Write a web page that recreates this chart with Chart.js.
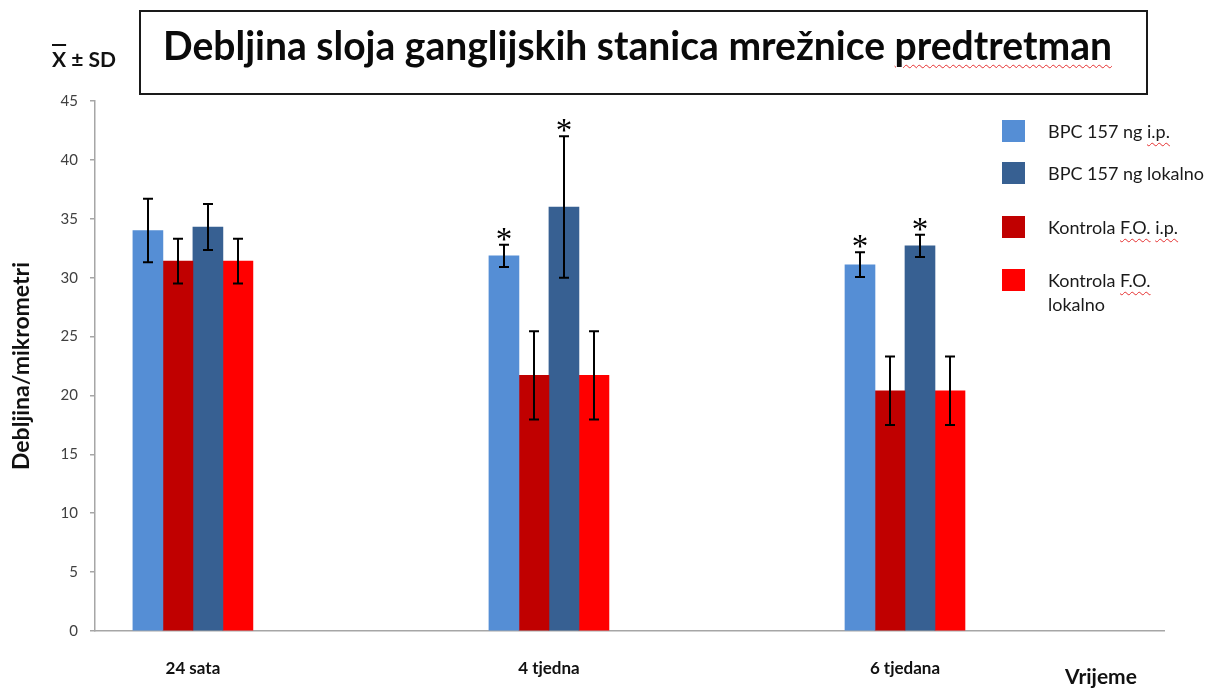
<!DOCTYPE html>
<html>
<head>
<meta charset="utf-8">
<script src="https://cdn.jsdelivr.net/npm/chart.js@4.4.1/dist/chart.umd.min.js"></script>
<style>
  body { margin: 0; background: #fff; }
  #wrap { position: relative; width: 1222px; height: 690px; font-family: Lato, sans-serif; color: #111; }
  #chart { position: absolute; left: 0; top: 0; }
  .titlebox { position: absolute; left: 139px; top: 10px; width: 1005px; height: 81px; border: 2px solid #1a1a1a; }
  #title { position: absolute; left: 163px; top: 25px; font-weight: bold; font-size: 41px; line-height: 40px; white-space: nowrap; transform-origin: 0 0; color: #0a0a0a; }
  .spell { text-decoration: underline wavy #e53030; text-decoration-thickness: 1px; text-underline-offset: 4px; }
  #sd { position: absolute; left: 52px; top: 47px; font-weight: bold; font-size: 21px; line-height: 24px; white-space: nowrap; }
  #sd .bar { text-decoration: overline; }
  #vrijeme { position: absolute; left: 1065px; top: 664px; font-weight: bold; font-size: 21px; line-height: 24px; }
  .lg { position: absolute; left: 1002px; width: 23px; height: 22px; }
  .lgt { position: absolute; left: 1048px; font-size: 18px; line-height: 24px; white-space: nowrap; color: #1a1a1a; }
</style>
</head>
<body>
<div id="wrap">
  <canvas id="chart" width="1222" height="690"></canvas>
  <div class="titlebox"></div>
  <div id="title">Debljina sloja ganglijskih stanica mrežnice <span class="spell">predtretman</span></div>
  <div id="sd"><span class="bar">X</span> ± SD</div>
  <div id="vrijeme">Vrijeme</div>
  <div id="legend"></div>
</div>
<script>
const categories = ['24 sata', '4 tjedna', '6 tjedana'];

const bpcIp = [34.0, 31.85, 31.1];
const bpcIpSd = [2.7, 0.95, 1.05];
const bpcIpStar = [false, true, true];

const kontrolaIp = [31.4, 21.7, 20.4];
const kontrolaIpSd = [1.9, 3.75, 2.9];

const bpcLokalno = [34.3, 36.0, 32.7];
const bpcLokalnoSd = [1.95, 6.0, 0.95];
const bpcLokalnoStar = [false, true, true];

const kontrolaLokalno = [31.4, 21.7, 20.4];
const kontrolaLokalnoSd = [1.9, 3.75, 2.9];

const colors = {
  bpcIp: '#558ed5',
  bpcLokalno: '#376092',
  kontrolaIp: '#c00000',
  kontrolaLokalno: '#ff0000'
};

// legend rows: [colour, label html, centre y]
const legendRows = [
  [colors.bpcIp, 'BPC 157 ng <span class="spell">i.p.</span>', 131],
  [colors.bpcLokalno, 'BPC 157 ng lokalno', 173],
  [colors.kontrolaIp, 'Kontrola <span class="spell">F.O.</span> <span class="spell">i.p.</span>', 227],
  [colors.kontrolaLokalno, 'Kontrola <span class="spell">F.O.</span><br>lokalno', 280]
];

const legend = document.getElementById('legend');
legendRows.forEach(r => {
  const sq = document.createElement('div');
  sq.className = 'lg';
  sq.style.background = r[0];
  sq.style.top = (r[2] - 11) + 'px';
  legend.appendChild(sq);
  const t = document.createElement('div');
  t.className = 'lgt';
  t.innerHTML = r[1];
  t.style.top = (r[2] - 12) + 'px';
  legend.appendChild(t);
});

// squeeze the title into its box width
const title = document.getElementById('title');
const tw = title.getBoundingClientRect().width;
title.style.transform = 'scaleX(' + (949 / tw) + ')';

function points(vals) {
  return vals.map((v, i) => ({ x: i, y: v }));
}

const errorBars = {
  id: 'errorBars',
  afterDatasetsDraw(chart) {
    const ctx = chart.ctx;
    const ys = chart.scales.y;
    chart.data.datasets.forEach((ds, i) => {
      const meta = chart.getDatasetMeta(i);
      meta.data.forEach((bar, j) => {
        const v = ds.data[j].y;
        const top = ys.getPixelForValue(v + ds.sd[j]);
        const bot = ys.getPixelForValue(v - ds.sd[j]);
        const x = Math.round(bar.x);
        ctx.save();
        ctx.strokeStyle = '#000';
        ctx.lineWidth = 2;
        ctx.beginPath();
        ctx.moveTo(x, top); ctx.lineTo(x, bot);
        ctx.moveTo(x - 5, top); ctx.lineTo(x + 5, top);
        ctx.moveTo(x - 5, bot); ctx.lineTo(x + 5, bot);
        ctx.stroke();
        if (ds.star && ds.star[j]) {
          ctx.fillStyle = '#000';
          ctx.font = '33px "Liberation Serif"';
          ctx.textAlign = 'center';
          ctx.textBaseline = 'alphabetic';
          ctx.fillText('*', x, top - 13 + 18);
        }
        ctx.restore();
      });
    });
  }
};

new Chart(document.getElementById('chart'), {
  type: 'bar',
  data: {
    datasets: [
      { label: 'BPC 157 ng i.p.', data: points(bpcIp), sd: bpcIpSd, star: bpcIpStar, backgroundColor: colors.bpcIp },
      { label: 'Kontrola F.O. i.p.', data: points(kontrolaIp), sd: kontrolaIpSd, backgroundColor: colors.kontrolaIp },
      { label: 'BPC 157 ng lokalno', data: points(bpcLokalno), sd: bpcLokalnoSd, star: bpcLokalnoStar, backgroundColor: colors.bpcLokalno },
      { label: 'Kontrola F.O. lokalno', data: points(kontrolaLokalno), sd: kontrolaLokalnoSd, backgroundColor: colors.kontrolaLokalno }
    ]
  },
  options: {
    responsive: false,
    animation: false,
    barThickness: 30,
    layout: { padding: { top: 101, right: 58, bottom: 0, left: 0 } },
    plugins: { legend: { display: false }, tooltip: { enabled: false } },
    scales: {
      x: {
        type: 'linear',
        min: -0.275,
        max: 2.7275,
        offset: false,
        grid: { display: false, offset: false },
        border: { display: true, color: '#a6a6a6', width: 1.5 },
        afterBuildTicks(scale) {
          scale.ticks = categories.map((c, i) => ({ value: i }));
        },
        afterFit(scale) { scale.height = 59; },
        ticks: {
          padding: 19,
          color: '#111',
          font: { family: 'Lato', size: 17, weight: 'bold' },
          callback: (v, i) => categories[i]
        }
      },
      y: {
        min: 0,
        max: 45,
        grid: { drawOnChartArea: false, tickLength: 5, color: '#a6a6a6', lineWidth: 1.5 },
        border: { display: true, color: '#a6a6a6', width: 1.5 },
        afterFit(scale) { scale.width = 95; },
        ticks: {
          stepSize: 5,
          padding: 12,
          color: '#404040',
          font: { family: 'Lato', size: 15 }
        },
        title: {
          display: true,
          text: 'Debljina/mikrometri',
          color: '#111',
          font: { family: 'Lato', size: 23, weight: 'bold' },
          padding: { top: 8, bottom: 0 }
        }
      }
    }
  },
  plugins: [errorBars]
});
</script>
</body>
</html>
